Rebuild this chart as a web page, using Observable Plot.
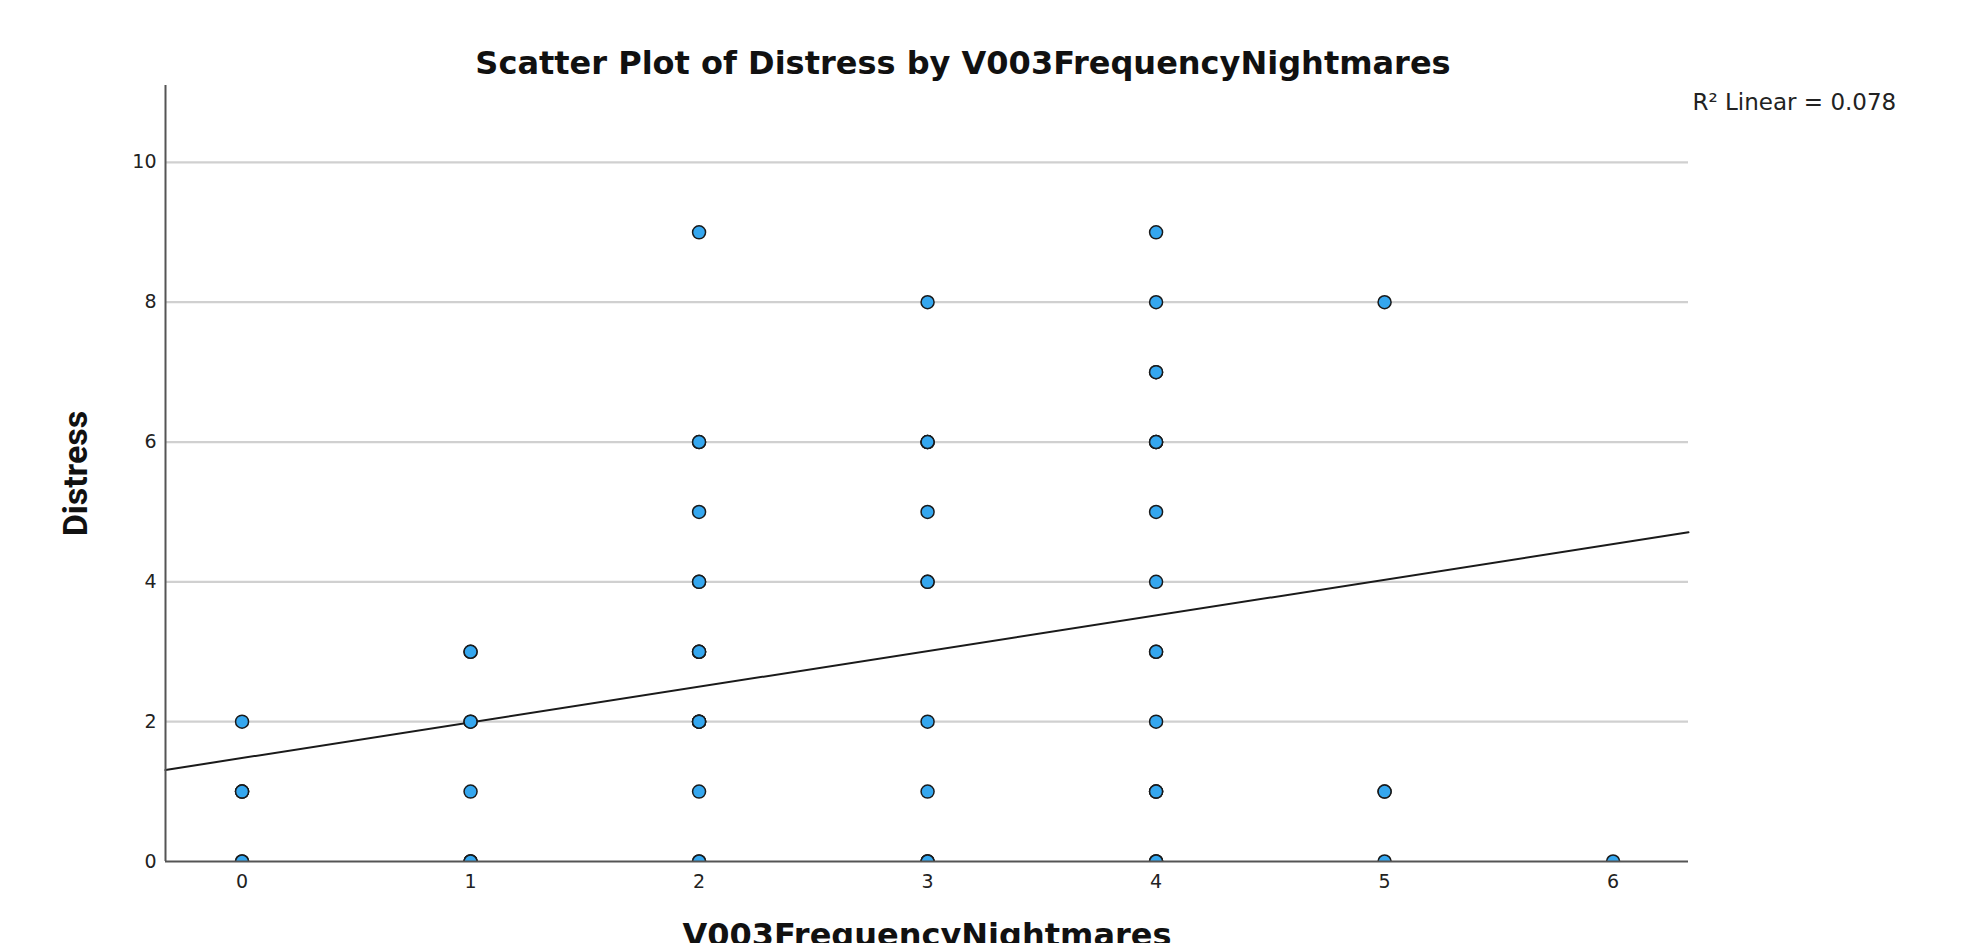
<!DOCTYPE html>
<html>
<head>
<meta charset="utf-8">
<script src="https://cdn.jsdelivr.net/npm/d3@7"></script>
<script src="https://cdn.jsdelivr.net/npm/@observablehq/plot@0.6"></script>
<style>
  html, body { margin: 0; padding: 0; background: #fff; overflow: hidden; }
</style>
</head>
<body>
<div id="chart"></div>
<script>
// Chart values
const titleText = "Scatter Plot of Distress by V003FrequencyNightmares";
const xLabel = "V003FrequencyNightmares";
const yLabel = "Distress";
const fitLabel = "R\u00B2 Linear = 0.078";

const xTicks = [0, 1, 2, 3, 4, 5, 6];
const yTicks = [0, 2, 4, 6, 8, 10];
const xDomain = [-0.335, 6.33];
const yDomain = [0, 11.1];

// distinct (x, y) points and estimated overlapping counts
const xVals   = [0,0,0, 1,1,1,1, 2,2,2,2,2,2,2,2, 3,3,3,3,3,3,3, 4,4,4,4,4,4,4,4,4,4, 5,5,5, 6];
const yVals   = [2,1,0, 3,2,1,0, 9,6,5,4,3,2,1,0, 8,6,5,4,2,1,0, 9,8,7,6,5,4,3,2,1,0, 8,1,0, 0];
const nVals   = [1,3,2, 2,2,1,3, 1,2,1,2,3,4,1,2, 1,3,1,2,1,1,3, 1,1,2,3,1,1,2,1,3,3, 1,2,1, 1];

// linear fit coefficients
const fitIntercept = 1.48;
const fitSlope = 0.51;

const points = [];
xVals.forEach((x, i) => {
  for (let k = 0; k < nVals[i]; k++) points.push({x, y: yVals[i]});
});
const fitLine = xDomain.map(x => ({x, y: fitIntercept + fitSlope * x}));

const sans = "'DejaVu Sans', sans-serif";
const W = 1963, H = 943;
const chart = Plot.plot({
  width: W,
  height: H,
  marginLeft: 165,
  marginRight: 275,
  marginTop: 85,
  marginBottom: 82,
  style: {background: "#fff", fontFamily: sans},
  x: {domain: xDomain, ticks: xTicks, label: null},
  y: {domain: yDomain, ticks: yTicks, label: null},
  marks: [
    Plot.ruleY(yTicks.filter(d => d > 0), {stroke: "#d0d0d0", strokeWidth: 2.2}),
    Plot.axisY({ticks: yTicks, tickFormat: d3.format("d"), tickSize: 0, tickPadding: 9, fontSize: 19, fill: "#222", label: null}),
    Plot.axisX({ticks: xTicks, tickFormat: d3.format("d"), tickSize: 0, tickPadding: 13, fontSize: 19, fill: "#222", label: null}),
    Plot.line(fitLine, {x: "x", y: "y", stroke: "#1a1a1a", strokeWidth: 2}),
    Plot.dot(points, {x: "x", y: "y", r: 6.5, fill: "#35a7ef", stroke: "#1a1a1a", strokeWidth: 1.5, clip: true}),
    Plot.ruleX([xDomain[0]], {stroke: "#555", strokeWidth: 2}),
    Plot.ruleY([yDomain[0]], {stroke: "#555", strokeWidth: 2}),
    Plot.text([titleText], {frameAnchor: "top", dx: 36, dy: -22, lineAnchor: "middle",
      fontSize: 32, fontWeight: "bold", fill: "#111", fontFamily: sans}),
    Plot.text([yLabel], {frameAnchor: "left", dx: -89, rotate: -90, textAnchor: "middle", lineAnchor: "middle",
      fontSize: 34, fontWeight: "bold", fill: "#111", fontFamily: "Roboto, sans-serif"}),
    Plot.text([xLabel], {frameAnchor: "bottom", dy: 62, lineAnchor: "top",
      fontSize: 32, fontWeight: "bold", fill: "#111", fontFamily: sans}),
    Plot.text([fitLabel], {frameAnchor: "top-right", dx: 4, dy: 17, textAnchor: "start", lineAnchor: "middle",
      fontSize: 23, fill: "#222", fontFamily: sans})
  ]
});
document.getElementById("chart").appendChild(chart);
</script>
</body>
</html>
